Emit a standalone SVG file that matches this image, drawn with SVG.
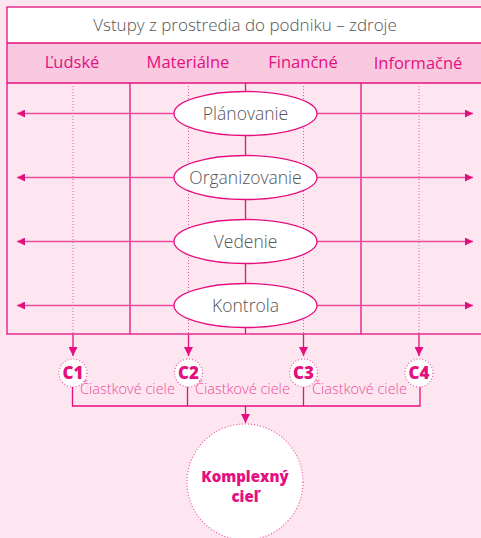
<svg xmlns="http://www.w3.org/2000/svg" width="481" height="538" viewBox="0 0 481 538">
  <defs>
    <marker id="ah" viewBox="0 0 10 10" refX="10" refY="5" markerWidth="8" markerHeight="8" markerUnits="userSpaceOnUse" orient="auto-start-reverse">
      <path d="M0,0 L10,5 L0,10 z" fill="#e5107f"/>
    </marker>
    <marker id="ah2" viewBox="0 0 10 10" refX="10" refY="5" markerWidth="9" markerHeight="9" markerUnits="userSpaceOnUse" orient="auto-start-reverse">
      <path d="M0,0 L10,5 L0,10 z" fill="#e5107f"/>
    </marker>
  </defs>
  <style>
    .frame { fill: none; stroke: #e5107f; stroke-width: 1.3; }
    .solid { stroke: #e5107f; stroke-width: 1.3; fill: none; }
    .dots { stroke: #ec5aa3; stroke-width: 1; stroke-dasharray: 1 2; fill: none; }
    .harrow { stroke: #ec4b9b; stroke-width: 1.5; fill: none; }
    .oval { fill: #ffffff; stroke: #e5107f; stroke-width: 1.3; }
    .dcirc { fill: #ffffff; stroke: #ec5aa3; stroke-width: 1.2; stroke-dasharray: 1 2; }
    .head { font-family: "Open Sans", "Noto Sans", sans-serif; font-size: 17px; fill: #555555; text-anchor: middle; font-weight: 300; }
    .col { font-family: "Open Sans", "Noto Sans", sans-serif; font-size: 16.5px; fill: #e5107f; text-anchor: middle; }
    .lbl { font-family: "Open Sans", "Noto Sans", sans-serif; font-size: 17.5px; fill: #555555; text-anchor: middle; font-weight: 300; }
    .cid { font-family: "Open Sans", "Noto Sans", sans-serif; font-size: 17px; fill: #e5107f; text-anchor: middle; font-weight: 800; }
    .sub { font-family: "Open Sans", "Noto Sans", sans-serif; font-size: 14.5px; fill: #ec4b9b; font-weight: 300; }
    .goal { font-family: "Open Sans", "Noto Sans", sans-serif; font-size: 15px; fill: #e5107f; text-anchor: middle; font-weight: 800; }
  </style>

  <!-- background -->
  <rect x="0" y="0" width="481" height="538" fill="#fde6f0"/>

  <!-- header and resource band -->
  <g id="header">
    <rect x="7" y="7" width="485" height="36" fill="#ffffff"/>
    <rect x="7" y="43" width="485" height="40" fill="#f8c9df"/>
    <text class="head" x="245" y="31">Vstupy z prostredia do podniku – zdroje</text>
  </g>
  <g id="resources">
    <text class="col" x="72" y="68">Ľudské</text>
    <text class="col" x="188" y="68">Materiálne</text>
    <text class="col" x="303" y="68">Finančné</text>
    <text class="col" x="418" y="69">Informačné</text>
  </g>

  <!-- table frame and grid -->
  <g id="grid">
    <rect class="frame" x="7" y="7" width="485" height="327"/>
    <line class="solid" x1="7" y1="43" x2="492" y2="43"/>
    <line class="solid" x1="7" y1="83" x2="492" y2="83"/>
    <line class="solid" x1="130" y1="83" x2="130" y2="334"/>
    <line class="solid" x1="361" y1="83" x2="361" y2="334"/>
    <line class="solid" x1="245.5" y1="83" x2="245.5" y2="334"/>
    <line class="dots" x1="73" y1="83" x2="73" y2="334"/>
    <line class="dots" x1="188.5" y1="83" x2="188.5" y2="334"/>
    <line class="dots" x1="303.5" y1="83" x2="303.5" y2="334"/>
    <line class="dots" x1="419" y1="83" x2="419" y2="334"/>
  </g>

  <!-- connectors -->
  <g id="connectors">
    <line class="harrow" x1="17" y1="113.5" x2="473" y2="113.5" marker-start="url(#ah)" marker-end="url(#ah)"/>
    <line class="harrow" x1="17" y1="177.5" x2="473" y2="177.5" marker-start="url(#ah)" marker-end="url(#ah)"/>
    <line class="harrow" x1="17" y1="241.5" x2="473" y2="241.5" marker-start="url(#ah)" marker-end="url(#ah)"/>
    <line class="harrow" x1="17" y1="305.5" x2="473" y2="305.5" marker-start="url(#ah)" marker-end="url(#ah)"/>
    <line class="solid" x1="73" y1="334" x2="73" y2="356" marker-end="url(#ah2)"/>
    <line class="solid" x1="188.5" y1="334" x2="188.5" y2="356" marker-end="url(#ah2)"/>
    <line class="solid" x1="303.5" y1="334" x2="303.5" y2="356" marker-end="url(#ah2)"/>
    <line class="solid" x1="419" y1="334" x2="419" y2="356" marker-end="url(#ah2)"/>
    <path class="solid" d="M72.5,386 V406 H420 V386 M187.5,386 V406 M303.5,386 V406"/>
    <line class="solid" x1="245.5" y1="406" x2="245.5" y2="423" marker-end="url(#ah2)"/>
  </g>

  <!-- management functions -->
  <g id="planovanie">
    <ellipse class="oval" cx="245.5" cy="113.5" rx="71.5" ry="22"/>
    <text class="lbl" x="245.5" y="119.5">Plánovanie</text>
  </g>
  <g id="organizovanie">
    <ellipse class="oval" cx="245.5" cy="177.5" rx="71.5" ry="22"/>
    <text class="lbl" x="245.5" y="183.5">Organizovanie</text>
  </g>
  <g id="vedenie">
    <ellipse class="oval" cx="245.5" cy="241.5" rx="71.5" ry="22"/>
    <text class="lbl" x="245.5" y="247.5">Vedenie</text>
  </g>
  <g id="kontrola">
    <ellipse class="oval" cx="245.5" cy="305.5" rx="71.5" ry="22"/>
    <text class="lbl" x="245.5" y="311.5">Kontrola</text>
  </g>

  <!-- partial goals -->
  <g id="c1">
    <circle class="dcirc" cx="73" cy="373" r="14"/>
    <text class="cid" x="73" y="379">C1</text>
  </g>
  <g id="c2">
    <circle class="dcirc" cx="188.5" cy="373" r="14"/>
    <text class="cid" x="188.5" y="379">C2</text>
  </g>
  <g id="c3">
    <circle class="dcirc" cx="303.5" cy="373" r="14"/>
    <text class="cid" x="303.5" y="379">C3</text>
  </g>
  <g id="c4">
    <circle class="dcirc" cx="419" cy="373" r="14"/>
    <text class="cid" x="419" y="379">C4</text>
  </g>
  <g id="ciastkove">
    <text class="sub" x="80" y="394">Čiastkové ciele</text>
    <text class="sub" x="195" y="394">Čiastkové ciele</text>
    <text class="sub" x="312" y="394">Čiastkové ciele</text>
  </g>

  <!-- overall goal -->
  <g id="komplexny">
    <circle class="dcirc" cx="245" cy="482" r="58"/>
    <text class="goal" x="245" y="482">Komplexný</text>
    <text class="goal" x="245" y="502">cieľ</text>
  </g>
</svg>
